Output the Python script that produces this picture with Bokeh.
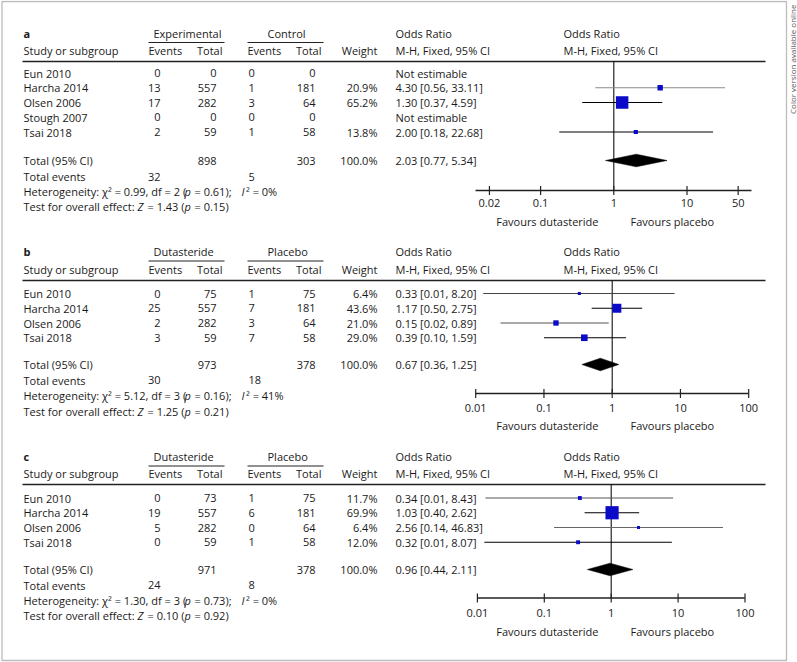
import math
from bokeh.plotting import figure
from bokeh.models import Range1d, LogScale, BoxAnnotation, ColumnDataSource
from bokeh.core.properties import value
from bokeh.embed import file_html
from bokeh.resources import INLINE

# ---------------- data ----------------
# panel a
a_studies = ["Eun 2010", "Harcha 2014", "Olsen 2006", "Stough 2007", "Tsai 2018"]
a_exp_events = [0, 13, 17, 0, 2]
a_exp_total = [0, 557, 282, 0, 59]
a_ctl_events = [0, 1, 3, 0, 1]
a_ctl_total = [0, 181, 64, 0, 58]
a_weight = [None, 20.9, 65.2, None, 13.8]
a_or = [None, 4.30, 1.30, None, 2.00]
a_lo = [None, 0.56, 0.37, None, 0.18]
a_hi = [None, 33.11, 4.59, None, 22.68]
a_sum = [898, 303, 2.03, 0.77, 5.34, 32, 5]          # exp tot, ctl tot, OR, lo, hi, exp ev, ctl ev
a_het = ["0.99", "2", "0.61", "0%"]
a_z = ["1.43", "0.15"]
a_ticks = [0.02, 0.1, 1, 10, 50]
a_tick_labels = ["0.02", "0.1", "1", "10", "50"]

# panel b
b_studies = ["Eun 2010", "Harcha 2014", "Olsen 2006", "Tsai 2018"]
b_exp_events = [0, 25, 2, 3]
b_exp_total = [75, 557, 282, 59]
b_ctl_events = [1, 7, 3, 7]
b_ctl_total = [75, 181, 64, 58]
b_weight = [6.4, 43.6, 21.0, 29.0]
b_or = [0.33, 1.17, 0.15, 0.39]
b_lo = [0.0129, 0.50, 0.0231, 0.10]
b_hi = [8.20, 2.75, 0.89, 1.59]
b_sum = [973, 378, 0.67, 0.36, 1.25, 30, 18]
b_het = ["5.12", "3", "0.16", "41%"]
b_z = ["1.25", "0.21"]
b_ticks = [0.01, 0.1, 1, 10, 100]
b_tick_labels = ["0.01", "0.1", "1", "10", "100"]

# panel c
c_studies = ["Eun 2010", "Harcha 2014", "Olsen 2006", "Tsai 2018"]
c_exp_events = [0, 19, 5, 0]
c_exp_total = [73, 557, 282, 59]
c_ctl_events = [1, 6, 0, 1]
c_ctl_total = [75, 181, 64, 58]
c_weight = [11.7, 69.9, 6.4, 12.0]
c_or = [0.34, 1.03, 2.56, 0.32]
c_lo = [0.0132, 0.40, 0.14, 0.0127]
c_hi = [8.43, 2.62, 46.83, 8.07]
c_sum = [971, 378, 0.96, 0.44, 2.11, 24, 8]
c_het = ["1.30", "3", "0.73", "0%"]
c_z = ["0.10", "0.92"]
c_ticks = [0.01, 0.1, 1, 10, 100]
c_tick_labels = ["0.01", "0.1", "1", "10", "100"]

# ---------------- styling / layout ----------------
FONT = "Open Sans"
TXT = "#1a1a1a"
BLUE = "#0a0ac8"

panels = [
    dict(label="a", g1="Experimental", g2="Control", studies=a_studies, ee=a_exp_events, et=a_exp_total,
         ce=a_ctl_events, ct=a_ctl_total, w=a_weight, orr=a_or, lo=a_lo, hi=a_hi, s=a_sum, het=a_het, z=a_z,
         ticks=a_ticks, tl=a_tick_labels,
         hdr=32.5, hdr2=50, rule=61, row0=72.5, total=160, events=176, hety=191, testy=205.5,
         axis=190, tly=202, fav=221, center=613.3, dec=73.2, ax0=475, ax1=751,
         cicol=["#000", "#8a8a8a", "#000", "#000", "#000"]),
    dict(label="b", g1="Dutasteride", g2="Placebo", studies=b_studies, ee=b_exp_events, et=b_exp_total,
         ce=b_ctl_events, ct=b_ctl_total, w=b_weight, orr=b_or, lo=b_lo, hi=b_hi, s=b_sum, het=b_het, z=b_z,
         ticks=b_ticks, tl=b_tick_labels,
         hdr=251, hdr2=269, rule=280, row0=293, total=364, events=379.5, hety=395, testy=410.5,
         axis=393, tly=407, fav=425, center=611.7, dec=68.25, ax0=475, ax1=748,
         cicol=["#444", "#000", "#555", "#000"]),
    dict(label="c", g1="Dutasteride", g2="Placebo", studies=c_studies, ee=c_exp_events, et=c_exp_total,
         ce=c_ctl_events, ct=c_ctl_total, w=c_weight, orr=c_or, lo=c_lo, hi=c_hi, s=c_sum, het=c_het, z=c_z,
         ticks=c_ticks, tl=c_tick_labels,
         hdr=456, hdr2=473, rule=484, row0=497.5, total=569, events=584.5, hety=600, testy=615,
         axis=597.5, tly=612.5, fav=630.5, center=610.7, dec=66.9, ax0=476.7, ax1=744.3,
         cicol=["#555", "#000", "#666", "#000"]),
]
STEP = 14.75

X0, X1, Y0, Y1 = 0, 797, 0, 662
p = figure(width=X1 - X0, height=Y1 - Y0, x_range=Range1d(X0, X1), y_range=Range1d(Y1, Y0),
           output_backend="svg", toolbar_location=None, min_border=0,
           x_axis_location=None, y_axis_location=None, outline_line_color=None)
p.grid.visible = False
p.background_fill_color = "white"
p.border_fill_color = "white"

texts = {}


def add(x, y, s, align="left", style="normal", rn="default", size="11px", color=TXT, angle=0.0):
    key = (align, style, rn, size, color, angle)
    d = texts.setdefault(key, dict(x=[], y=[], text=[]))
    d["x"].append(x)
    d["y"].append(y)
    d["text"].append(s)


def hline(x0, x1, y, w=1.0, color="#222"):
    p.segment(x0=[x0], y0=[y], x1=[x1], y1=[y], line_color=color, line_width=w)


extra_r, extra_s = {}, {}
for P in panels:
    rn = "or_" + P["label"]
    lo_e = (X0 - P["center"]) / P["dec"]
    hi_e = (X1 - P["center"]) / P["dec"]
    extra_r[rn] = Range1d(10 ** lo_e, 10 ** hi_e)
    extra_s[rn] = LogScale()
    P["rn"] = rn
p.extra_x_ranges = extra_r
p.extra_x_scales = extra_s

for P in panels:
    rn = P["rn"]
    # headers
    add(23, P["hdr"], P["label"], style="bold")
    add(153, P["hdr"], P["g1"])
    add(267, P["hdr"], P["g2"])
    hline(148, 224, P["hdr"] + 9.5, 1.0)
    hline(247, 323, P["hdr"] + 9.5, 1.0)
    add(395, P["hdr"], "Odds Ratio")
    add(563, P["hdr"], "Odds Ratio")
    add(23, P["hdr2"], "Study or subgroup")
    add(148, P["hdr2"], "Events")
    add(222, P["hdr2"], "Total", align="right")
    add(247, P["hdr2"], "Events")
    add(321, P["hdr2"], "Total", align="right")
    add(377, P["hdr2"], "Weight", align="right")
    add(395, P["hdr2"], "M-H, Fixed, 95% CI")
    add(563, P["hdr2"], "M-H, Fixed, 95% CI")
    hline(22, 765, P["rule"], 1.3)

    # study rows
    ys = [P["row0"] + i * STEP for i in range(len(P["studies"]))]
    for i, y in enumerate(ys):
        add(23, y, P["studies"][i])
        add(160, y, str(P["ee"][i]), align="right")
        add(216, y, str(P["et"][i]), align="right")
        add(248, y, str(P["ce"][i]))
        add(315, y, str(P["ct"][i]), align="right")
        if P["orr"][i] is None:
            add(395, y, "Not estimable")
        else:
            add(377, y, f"{P['w'][i]:.1f}%", align="right")
            add(395, y, f"{P['orr'][i]:.2f} [{P['lo'][i]:.2f}, {P['hi'][i]:.2f}]")

    # summary rows
    s = P["s"]
    add(23, P["total"], "Total (95% CI)")
    add(216, P["total"], str(s[0]), align="right")
    add(315, P["total"], str(s[1]), align="right")
    add(377, P["total"], "100.0%", align="right")
    add(395, P["total"], f"{s[2]:.2f} [{s[3]:.2f}, {s[4]:.2f}]")
    add(23, P["events"], "Total events")
    add(160, P["events"], str(s[5]), align="right")
    add(248, P["events"], str(s[6]))

    h = P["het"]
    add(23, P["hety"], f"Heterogeneity: \u03c7\u00b2 = {h[0]}, df = {h[1]} (")
    add(184, P["hety"], "p", style="italic")
    add(194, P["hety"], f"= {h[2]});")
    add(241, P["hety"], "I", style="italic")
    add(245.5, P["hety"], f"\u00b2 = {h[3]}")
    z = P["z"]
    add(23, P["testy"], "Test for overall effect:")
    add(137, P["testy"], "Z", style="italic")
    add(147, P["testy"], f"= {z[0]} (")
    add(184, P["testy"], "p", style="italic")
    add(194, P["testy"], f"= {z[1]})")

    # forest plot
    p.segment(x0=[1], y0=[P["rule"]], x1=[1], y1=[P["axis"]], x_range_name=rn,
              line_color="#111", line_width=1.1)
    idx = [i for i in range(len(ys)) if P["orr"][i] is not None]
    src = ColumnDataSource(dict(
        y=[ys[i] for i in idx], orr=[P["orr"][i] for i in idx],
        lo=[P["lo"][i] for i in idx], hi=[P["hi"][i] for i in idx],
        col=[P["cicol"][i] for i in idx],
        size=[2 + 0.16 * P["w"][i] for i in idx]))
    p.segment(x0="lo", y0="y", x1="hi", y1="y", source=src, x_range_name=rn,
              line_color="col", line_width=1.2)
    p.scatter(x="orr", y="y", size="size", marker="square", source=src, x_range_name=rn,
              fill_color=BLUE, line_color=BLUE, line_width=0)
    ty = P["total"]
    p.patch(x=[s[3], s[2], s[4], s[2]], y=[ty, ty - 6.3, ty, ty + 6.3], x_range_name=rn,
            fill_color="black", line_color="black", line_width=0.5)
    # axis
    hline(P["ax0"], P["ax1"], P["axis"], 1.4, "#222")
    p.segment(x0=P["ticks"], y0=[P["axis"] - 4.5] * len(P["ticks"]), x1=P["ticks"],
              y1=[P["axis"] + 4.5] * len(P["ticks"]), x_range_name=rn, line_color="#222", line_width=1.2)
    for t, lab in zip(P["ticks"], P["tl"]):
        add(t, P["tly"], lab, align="center", rn=rn)
    add(598, P["fav"], "Favours dutasteride", align="right")
    add(630, P["fav"], "Favours placebo")

# frame and side note
p.add_layout(BoxAnnotation(left=1.5, right=786, top=1, bottom=660, fill_color=None,
                           line_color="#222", line_width=1.3))
add(791.5, 4, "Color version available online", align="right", size="8px", color="#555",
    angle=math.pi / 2)

for (align, style, rn, size, color, angle), d in texts.items():
    p.text(x="x", y="y", text="text", source=ColumnDataSource(d), x_range_name=rn,
           text_align=align, text_baseline="middle", text_font=value(FONT),
           text_font_style=style, text_font_size=size, text_color=color, angle=angle)

open("out.html", "w").write(file_html(p, INLINE))
